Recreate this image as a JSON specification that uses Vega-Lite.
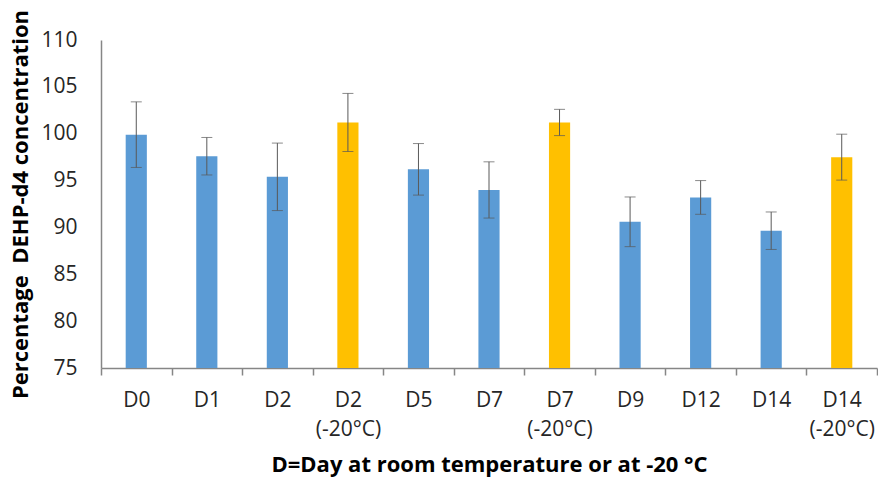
{
  "$schema": "https://vega.github.io/schema/vega-lite/v6.json",
  "width": 776,
  "height": 328,
  "autosize": {"type": "none"},
  "padding": {"left": 101, "top": 40, "right": 1, "bottom": 109},
  "background": "white",
  "config": {"view": {"stroke": null}, "font": "Open Sans"},
  "data": {
    "values": [
      {"day": "D0", "value": 99.9, "err": 3.5, "storage": "room"},
      {"day": "D1", "value": 97.6, "err": 2.0, "storage": "room"},
      {"day": "D2", "value": 95.4, "err": 3.6, "storage": "room"},
      {"day": "D2|(-20°C)", "value": 101.2, "err": 3.1, "storage": "frozen"},
      {"day": "D5", "value": 96.2, "err": 2.75, "storage": "room"},
      {"day": "D7", "value": 94.0, "err": 3.0, "storage": "room"},
      {"day": "D7|(-20°C)", "value": 101.2, "err": 1.4, "storage": "frozen"},
      {"day": "D9", "value": 90.6, "err": 2.65, "storage": "room"},
      {"day": "D12", "value": 93.2, "err": 1.8, "storage": "room"},
      {"day": "D14", "value": 89.65, "err": 2.0, "storage": "room"},
      {"day": "D14|(-20°C)", "value": 97.5, "err": 2.45, "storage": "frozen"}
    ]
  },
  "encoding": {
    "x": {
      "field": "day",
      "type": "nominal",
      "sort": null,
      "scale": {"paddingInner": 0, "paddingOuter": 0},
      "axis": {
        "title": "D=Day at room temperature or at -20 °C",
        "labelAngle": 0,
        "labelExpr": "split(datum.label, '|')",
        "labelFontSize": 21,
        "labelLineHeight": 29,
        "labelColor": "#262626",
        "labelPadding": 14,
        "tickBand": "extent",
        "tickSize": 7,
        "tickColor": "#868686",
        "tickWidth": 1.5,
        "domainColor": "#868686",
        "domainWidth": 1.5,
        "titleFontSize": 22,
        "titleFontWeight": "bold",
        "titleColor": "#000000",
        "titlePadding": 15
      }
    },
    "y": {
      "field": "value",
      "type": "quantitative",
      "scale": {"domain": [75, 110], "nice": false, "zero": false},
      "axis": {
        "title": "Percentage\u00a0\u00a0DEHP-d4 concentration",
        "values": [75, 80, 85, 90, 95, 100, 105, 110],
        "grid": false,
        "ticks": false,
        "labelFontSize": 21,
        "labelColor": "#262626",
        "labelPadding": 24,
        "domainColor": "#868686",
        "domainWidth": 1.5,
        "titleFontSize": 22,
        "titleFontWeight": "bold",
        "titleColor": "#000000",
        "titlePadding": 8
      }
    }
  },
  "layer": [
    {
      "mark": {"type": "bar", "width": {"band": 0.3}, "clip": true},
      "encoding": {
        "color": {
          "field": "storage",
          "type": "nominal",
          "scale": {"domain": ["room", "frozen"], "range": ["#5B9BD5", "#FFC000"]},
          "legend": null
        }
      }
    },
    {
      "mark": {"type": "errorbar", "ticks": {"size": 11, "color": "#595959"}, "rule": {"color": "#595959"}, "color": "#595959"},
      "encoding": {
        "yError": {"field": "err"}
      }
    }
  ]
}
